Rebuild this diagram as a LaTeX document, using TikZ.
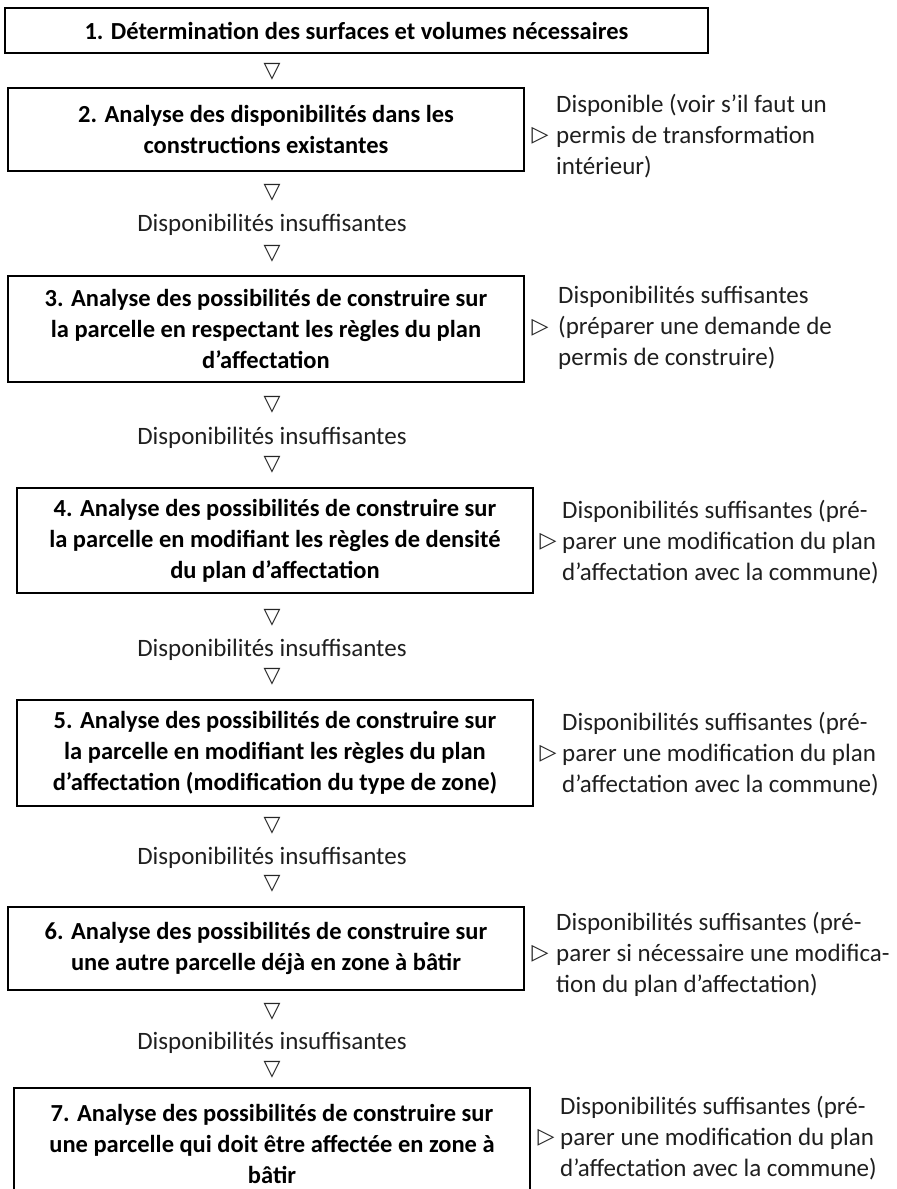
\documentclass[tikz,border=0pt]{standalone}
\usepackage{fontspec}
\setmainfont{Carlito}
\newfontfamily\symfont{DejaVu Sans}
\begin{document}
\begin{tikzpicture}[x=1pt,y=-1pt,
  box/.style={draw, line width=1.2pt, inner sep=0pt, align=center, font=\fontsize{24.5}{31}\selectfont\bfseries},
  side/.style={anchor=west, align=left, inner sep=0pt, text=black!88, font=\fontsize{25}{31}\selectfont},
  tri/.style={font=\symfont\fontsize{22}{22}\selectfont, inner sep=0pt, text=black!85},
  mid/.style={font=\fontsize{25}{31}\selectfont, inner sep=0pt, text=black!88}]
\useasboundingbox (0,0) rectangle (897,1189);
\clip (0,0) rectangle (897,1189);
% boxes
\node[box, minimum width=703, minimum height=45] (b1) at (356.5,30.5) {1. Détermination des surfaces et volumes nécessaires};
\node[box, minimum width=516, minimum height=83] (b2) at (266,129.5) {2. Analyse des disponibilités dans les\\constructions existantes};
\node[box, minimum width=516, minimum height=106] (b3) at (266,329) {3. Analyse des possibilités de construire sur\\la parcelle en respectant les règles du plan\\d’affectation};
\node[box, minimum width=516, minimum height=105] (b4) at (275,540.5) {4. Analyse des possibilités de construire sur\\la parcelle en modifiant les règles de densité\\du plan d’affectation};
\node[box, minimum width=516, minimum height=106] (b5) at (275,753) {5. Analyse des possibilités de construire sur\\la parcelle en modifiant les règles du plan\\d’affectation (modification du type de zone)};
\node[box, minimum width=516, minimum height=83] (b6) at (266,948.5) {6. Analyse des possibilités de construire sur\\une autre parcelle déjà en zone à bâtir};
\node[box, minimum width=516, minimum height=112] (b7) at (272,1144) {7. Analyse des possibilités de construire sur\\une parcelle qui doit être affectée en zone à\\bâtir};
% down triangles and labels
\node[tri] (d1) at (272,72) {▽};
\node[tri] (d2a) at (272,193) {▽};
\node[mid] (i2) at (272,225) {Disponibilités insuffisantes};
\node[tri] (d2b) at (272,254) {▽};
\node[tri] (d3a) at (272,405) {▽};
\node[mid] (i3) at (272,438) {Disponibilités insuffisantes};
\node[tri] (d3b) at (272,465) {▽};
\node[tri] (d4a) at (272,618) {▽};
\node[mid] (i4) at (272,650) {Disponibilités insuffisantes};
\node[tri] (d4b) at (272,677) {▽};
\node[tri] (d5a) at (272,826) {▽};
\node[mid] (i5) at (272,858) {Disponibilités insuffisantes};
\node[tri] (d5b) at (272,884) {▽};
\node[tri] (d6a) at (272,1012) {▽};
\node[mid] (i6) at (272,1043) {Disponibilités insuffisantes};
\node[tri] (d6b) at (272,1070) {▽};
% right side
\node[tri] (r2) at (540,136) {▷};
\node[side] (s2) at (556,136) {Disponible (voir s’il faut un\\permis de transformation\\intérieur)};
\node[tri] (r3) at (540,328) {▷};
\node[side] (s3) at (558,328) {Disponibilités suffisantes\\(préparer une demande de\\permis de construire)};
\node[tri] (r4) at (548,542) {▷};
\node[side] (s4) at (562,542) {Disponibilités suffisantes (pré-\\parer une modification du plan\\d’affectation avec la commune)};
\node[tri] (r5) at (548,754) {▷};
\node[side] (s5) at (562,754) {Disponibilités suffisantes (pré-\\parer une modification du plan\\d’affectation avec la commune)};
\node[tri] (r6) at (540,954) {▷};
\node[side] (s6) at (556,954) {Disponibilités suffisantes (pré-\\parer si nécessaire une modifica-\\tion du plan d’affectation)};
\node[tri] (r7) at (546,1138) {▷};
\node[side] (s7) at (560,1138) {Disponibilités suffisantes (pré-\\parer une modification du plan\\d’affectation avec la commune)};
\end{tikzpicture}
\end{document}
